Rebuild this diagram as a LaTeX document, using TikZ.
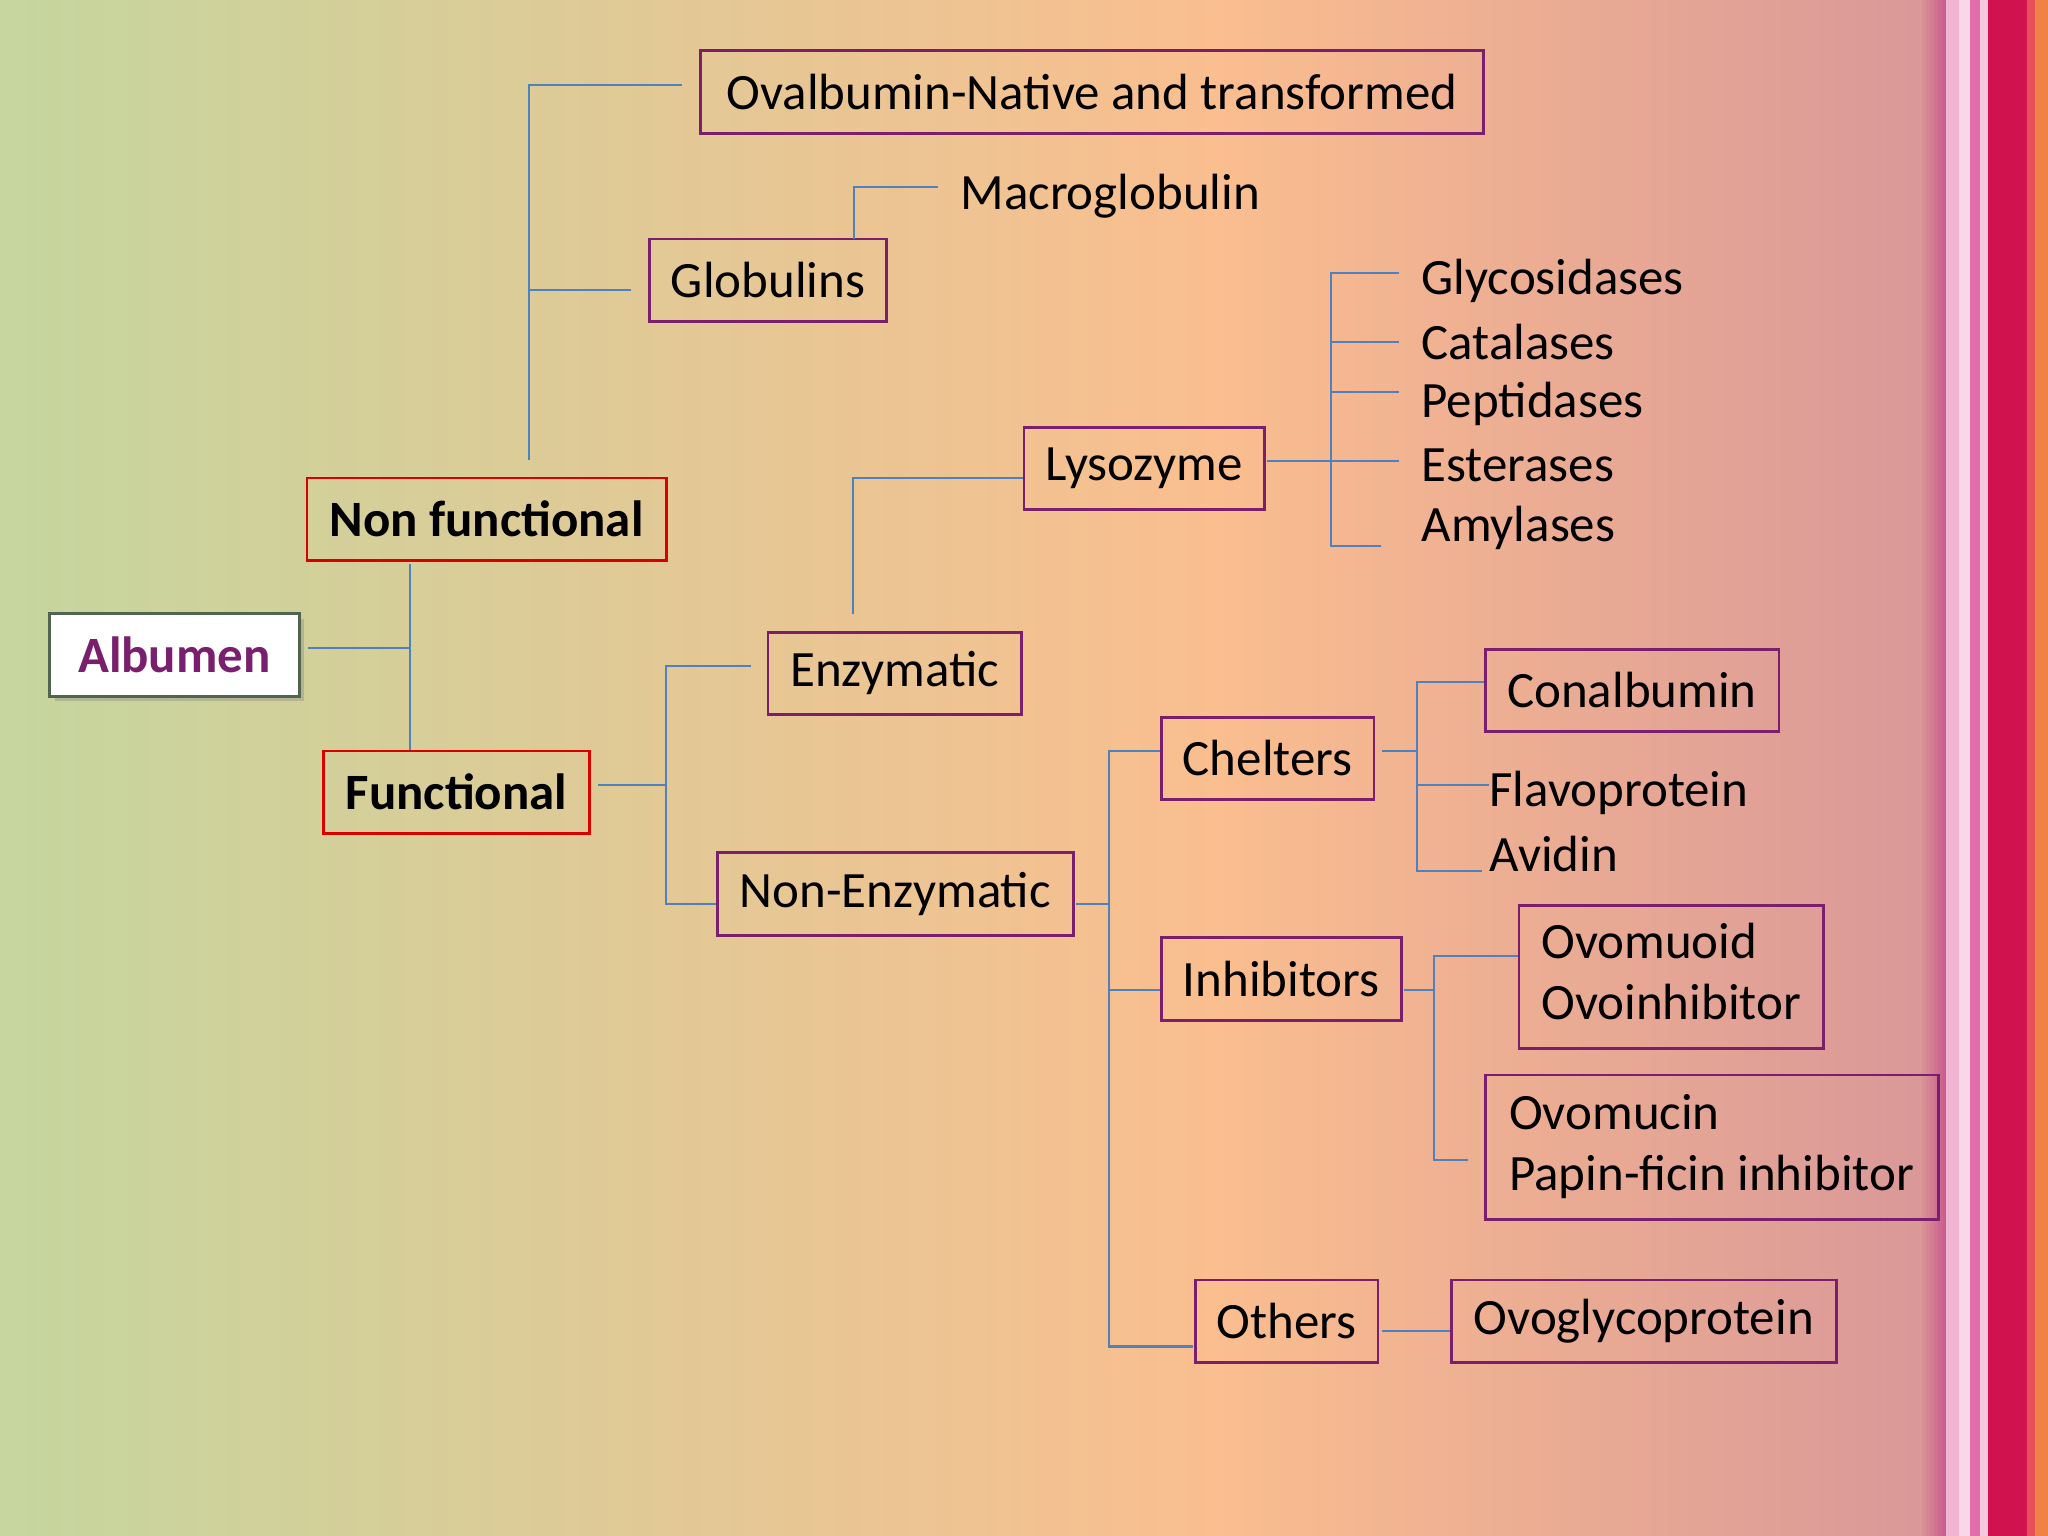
\documentclass[tikz,border=0pt]{standalone}
\usepackage{fontspec}
\setmainfont{Carlito}
\usetikzlibrary{shadows}
\definecolor{bxc}{HTML}{7A1F6E}
\definecolor{ln}{HTML}{4F81BD}
\definecolor{bgA}{RGB}{197,214,158}
\definecolor{bgB}{RGB}{250,190,143}
\definecolor{bgC}{RGB}{218,152,152}
\definecolor{bgD}{RGB}{200,90,140}
\definecolor{s1}{RGB}{240,180,210}
\definecolor{s2}{RGB}{250,215,230}
\definecolor{s3}{RGB}{225,110,170}
\definecolor{s4}{RGB}{245,200,220}
\definecolor{s5}{RGB}{208,18,78}
\definecolor{s6}{RGB}{230,80,90}
\definecolor{s7}{RGB}{240,130,70}
\definecolor{albb}{RGB}{80,100,80}
\begin{document}
\begin{tikzpicture}[x=0.5pt,y=-0.5pt,
  conn/.style={ln,line width=0.9pt},
  bx/.style={draw=bxc,line width=1.1pt,inner sep=0pt},
  rbx/.style={draw=red!85!black,line width=1.1pt,inner sep=0pt,font=\fontsize{19.5}{23.5}\selectfont\bfseries},
  lbl/.style={anchor=west,inner sep=0pt}]
\useasboundingbox (0,0) rectangle (1568,1176);
\shade[left color=bgA,right color=bgB] (0,0) rectangle (930,1176);
\shade[left color=bgB,right color=bgC] (930,0) rectangle (1470,1176);
\shade[left color=bgC,right color=bgD] (1470,0) rectangle (1490,1176);
\fill[s1] (1490,0) rectangle (1500,1176);
\fill[s2] (1500,0) rectangle (1508,1176);
\fill[s3] (1508,0) rectangle (1516,1176);
\fill[s4] (1516,0) rectangle (1522,1176);
\fill[s5] (1522,0) rectangle (1552,1176);
\fill[s6] (1552,0) rectangle (1558,1176);
\fill[s7] (1558,0) rectangle (1568,1176);
\newcommand\bx[7]{\node[#7,minimum width={(#4-#2)*0.5pt},minimum height={(#5-#3)*0.5pt}] (#1) at ({(#2+#4)/2},{(#3+#5)/2}) {#6};}
\fontsize{19.5}{23.5}\selectfont
\bx{alb}{38}{470}{229}{533}{\textcolor{bxc}{\bfseries Albumen}}{draw=albb,fill=white,line width=1.1pt,inner sep=0pt,drop shadow={opacity=0.35,shadow xshift=2pt,shadow yshift=-2pt},font=\fontsize{19.5}{23.5}\selectfont}
\bx{nf}{235}{366}{510}{429}{Non functional}{rbx}
\bx{fn}{248}{575}{451}{638}{Functional}{rbx}
\bx{ova}{536}{39}{1136}{102}{Ovalbumin-Native and transformed}{bx}
\bx{glo}{497}{183}{679}{246}{Globulins}{bx}
\bx{enz}{588}{484}{782}{547}{Enzymatic}{bx}
\bx{lys}{784}{327}{968}{390}{Lysozyme}{bx}
\bx{nen}{549}{653}{822}{716}{Non-Enzymatic}{bx}
\bx{che}{889}{549}{1052}{612}{Chelters}{bx}
\bx{inh}{889}{718}{1073}{781}{Inhibitors}{bx}
\bx{oth}{915}{980}{1055}{1043}{Others}{bx}
\bx{con}{1137}{497}{1362}{560}{Conalbumin}{bx}
\bx{ovo}{1163}{693}{1396}{803}{\begin{tabular}{@{}l@{}}Ovomuoid\\Ovoinhibitor\end{tabular}}{bx}
\bx{ovm}{1137}{823}{1484}{934}{\begin{tabular}{@{}l@{}}Ovomucin\\Papin-ficin inhibitor\end{tabular}}{bx}
\bx{ogp}{1111}{980}{1406}{1043}{Ovoglycoprotein}{bx}
\node[lbl] (mac) at (735,150) {Macroglobulin};
\node[lbl] (g1) at (1088,215) {Glycosidases};
\node[lbl] (g2) at (1088,262) {Catalases};
\node[lbl] (g3) at (1088,309) {Peptidases};
\node[lbl] (g4) at (1088,356) {Esterases};
\node[lbl] (g5) at (1088,404) {Amylases};
\node[lbl] (fla) at (1140,607) {Flavoprotein};
\node[lbl] (avi) at (1140,654) {Avidin};
\draw[conn] (236,496) -- (314,496);
\draw[conn] (314,432) -- (314,574);
\draw[conn] (405,352) -- (405,65) -- (522,65);
\draw[conn] (405,222) -- (483,222);
\draw[conn] (654,183) -- (654,143) -- (718,143);
\draw[conn] (458,601) -- (510,601);
\draw[conn] (575,510) -- (510,510) -- (510,692) -- (548,692);
\draw[conn] (653,470) -- (653,366) -- (783,366);
\draw[conn] (970,353) -- (1057,353);
\draw[conn] (1071,209) -- (1019,209) -- (1019,418) -- (1057,418);
\foreach \y in {262,300,353} \draw[conn] (1019,\y) -- (1071,\y);
\draw[conn] (824,692) -- (849,692);
\draw[conn] (888,575) -- (849,575) -- (849,1031) -- (913,1031);
\draw[conn] (849,758) -- (888,758);
\draw[conn] (1058,575) -- (1085,575);
\draw[conn] (1136,522) -- (1085,522) -- (1085,667) -- (1135,667);
\draw[conn] (1085,601) -- (1140,601);
\draw[conn] (1075,758) -- (1098,758);
\draw[conn] (1162,732) -- (1098,732) -- (1098,888) -- (1124,888);
\draw[conn] (1058,1019) -- (1110,1019);
\end{tikzpicture}
\end{document}
